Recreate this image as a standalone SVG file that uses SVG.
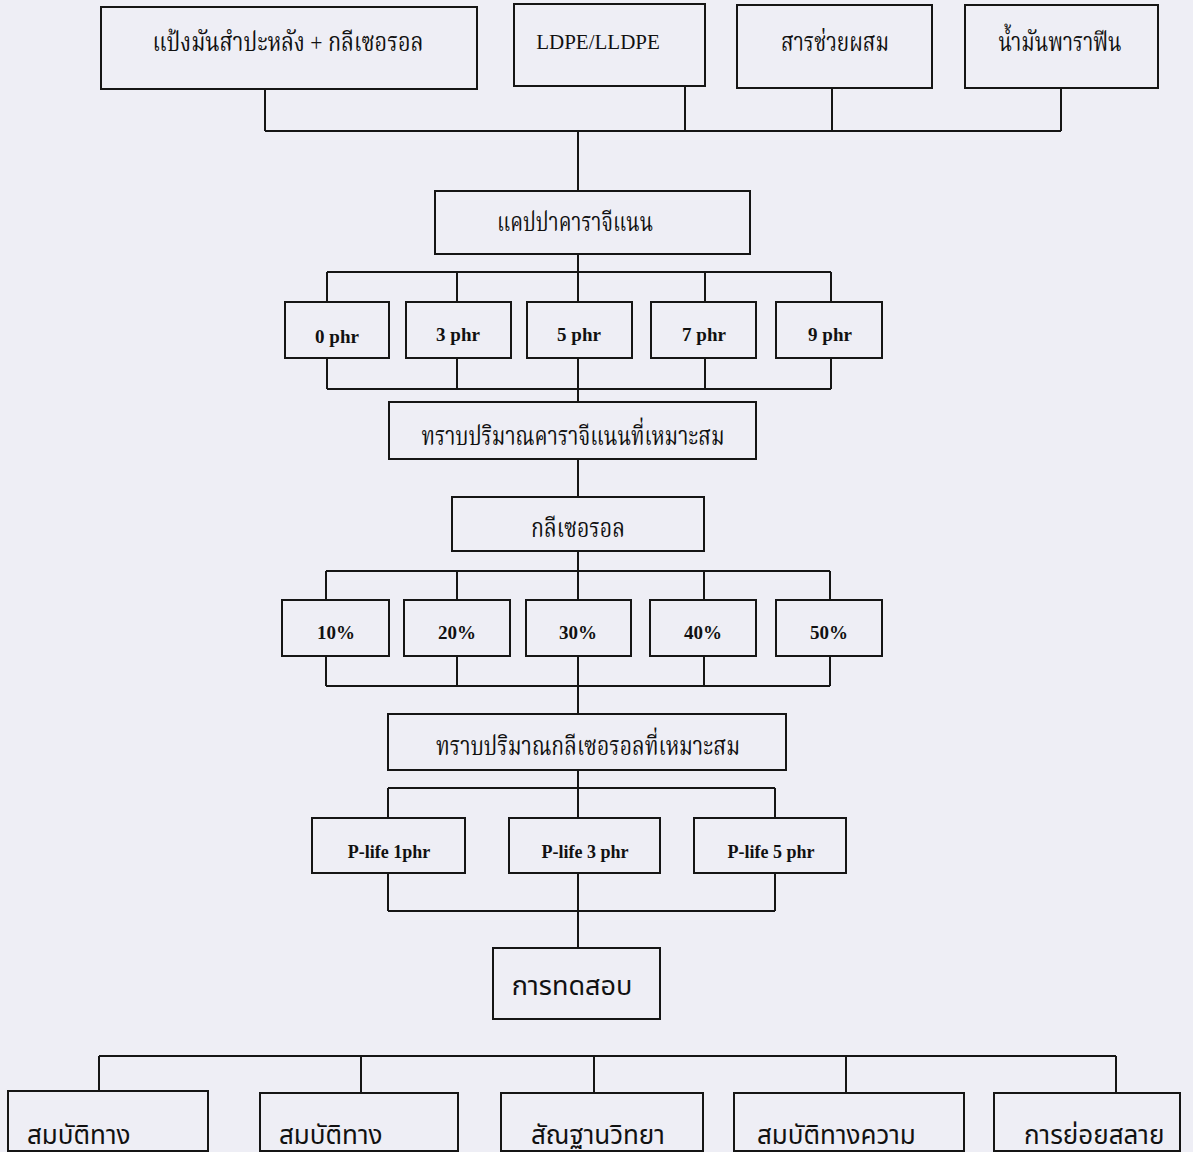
<svg xmlns="http://www.w3.org/2000/svg" width="1193" height="1152" viewBox="0 0 1193 1152">
  <style>
    .box { fill: none; stroke: #151515; stroke-width: 2; }
    .wire { fill: none; stroke: #151515; stroke-width: 2; }
    .th { font-family: "Liberation Serif", "Noto Serif Thai", "Noto Sans Thai", serif; font-size: 26px; fill: #111; text-anchor: middle; }
    .en { font-family: "Liberation Serif", serif; font-size: 21px; fill: #111; text-anchor: middle; }
    .bd { font-family: "Liberation Serif", serif; font-size: 19px; font-weight: bold; fill: #111; text-anchor: middle; }
    .pl { font-family: "Liberation Serif", serif; font-size: 18px; font-weight: bold; fill: #111; text-anchor: middle; }
    .ths { font-family: "Liberation Sans", "Noto Sans Thai", "Noto Sans", sans-serif; font-size: 26px; fill: #111; }
  </style>
  <rect width="1193" height="1152" fill="#EEEEF5"/>

  <!-- connectors -->
  <g id="connectors" class="wire">
    <!-- raw materials to carrageenan -->
    <path d="M265 89 V131 M685 86 V131 M832 88 V131 M1061 88 V131 M265 131 H1061 M578 131 V190"/>
    <!-- carrageenan to phr levels -->
    <path d="M578 254 V302 M327 272 H831 M327 272 V302 M457 272 V302 M705 272 V302 M831 272 V302"/>
    <path d="M327 358 V389 M457 358 V389 M578 358 V402 M705 358 V389 M831 358 V389 M327 389 H831"/>
    <!-- optimum carrageenan to glycerol -->
    <path d="M578 459 V497"/>
    <!-- glycerol to percentage levels -->
    <path d="M578 551 V600 M326 571 H830 M326 571 V600 M457 571 V600 M704 571 V600 M830 571 V600"/>
    <path d="M326 656 V686 M457 656 V686 M578 656 V714 M704 656 V686 M830 656 V686 M326 686 H830"/>
    <!-- optimum glycerol to P-life -->
    <path d="M578 770 V818 M388 788 H775 M388 788 V818 M775 788 V818"/>
    <path d="M388 873 V911 M775 873 V911 M578 873 V948 M388 911 H775"/>
    <!-- tests -->
    <path d="M99 1056 H1116 M99 1056 V1091 M361 1056 V1093 M594 1056 V1093 M846 1056 V1093 M1116 1056 V1093"/>
  </g>

  <g id="starch">
    <rect class="box" x="101" y="7" width="376" height="82"/>
    <text class="th" x="288" y="51" textLength="271" lengthAdjust="spacingAndGlyphs">แป้งมันสำปะหลัง + กลีเซอรอล</text>
  </g>
  <g id="ldpe">
    <rect class="box" x="514" y="4" width="191" height="82"/>
    <text class="en" x="598" y="49">LDPE/LLDPE</text>
  </g>
  <g id="compatibilizer">
    <rect class="box" x="737" y="5" width="195" height="83"/>
    <text class="th" x="835" y="51" textLength="108" lengthAdjust="spacingAndGlyphs">สารช่วยผสม</text>
  </g>
  <g id="paraffin">
    <rect class="box" x="965" y="5" width="193" height="83"/>
    <text class="th" x="1060" y="51" textLength="123" lengthAdjust="spacingAndGlyphs">น้ำมันพาราฟีน</text>
  </g>

  <g id="carrageenan">
    <rect class="box" x="435" y="191" width="315" height="63"/>
    <text class="th" x="575" y="231" textLength="156" lengthAdjust="spacingAndGlyphs">แคปปาคาราจีแนน</text>
  </g>

  <g id="phr0"><rect class="box" x="285" y="302" width="104" height="56"/><text class="bd" x="337" y="343">0 phr</text></g>
  <g id="phr3"><rect class="box" x="406" y="302" width="105" height="56"/><text class="bd" x="458" y="341">3 phr</text></g>
  <g id="phr5"><rect class="box" x="527" y="302" width="105" height="56"/><text class="bd" x="579" y="341">5 phr</text></g>
  <g id="phr7"><rect class="box" x="651" y="302" width="105" height="56"/><text class="bd" x="704" y="341">7 phr</text></g>
  <g id="phr9"><rect class="box" x="776" y="302" width="106" height="56"/><text class="bd" x="830" y="341">9 phr</text></g>

  <g id="optimum-carrageenan">
    <rect class="box" x="389" y="402" width="367" height="57"/>
    <text class="th" x="573" y="445" textLength="303" lengthAdjust="spacingAndGlyphs">ทราบปริมาณคาราจีแนนที่เหมาะสม</text>
  </g>

  <g id="glycerol">
    <rect class="box" x="452" y="497" width="252" height="54"/>
    <text class="th" x="578" y="537" textLength="94" lengthAdjust="spacingAndGlyphs">กลีเซอรอล</text>
  </g>

  <g id="gly10"><rect class="box" x="282" y="600" width="107" height="56"/><text class="bd" x="336" y="639">10%</text></g>
  <g id="gly20"><rect class="box" x="404" y="600" width="106" height="56"/><text class="bd" x="457" y="639">20%</text></g>
  <g id="gly30"><rect class="box" x="526" y="600" width="105" height="56"/><text class="bd" x="578" y="639">30%</text></g>
  <g id="gly40"><rect class="box" x="650" y="600" width="106" height="56"/><text class="bd" x="703" y="639">40%</text></g>
  <g id="gly50"><rect class="box" x="776" y="600" width="106" height="56"/><text class="bd" x="829" y="639">50%</text></g>

  <g id="optimum-glycerol">
    <rect class="box" x="388" y="714" width="398" height="56"/>
    <text class="th" x="588" y="755" textLength="304" lengthAdjust="spacingAndGlyphs">ทราบปริมาณกลีเซอรอลที่เหมาะสม</text>
  </g>

  <g id="plife1"><rect class="box" x="312" y="818" width="153" height="55"/><text class="pl" x="389" y="858">P-life 1phr</text></g>
  <g id="plife3"><rect class="box" x="509" y="818" width="151" height="55"/><text class="pl" x="585" y="858">P-life 3 phr</text></g>
  <g id="plife5"><rect class="box" x="694" y="818" width="152" height="55"/><text class="pl" x="771" y="858">P-life 5 phr</text></g>

  <g id="testing">
    <rect class="box" x="493" y="948" width="167" height="71"/>
    <text class="ths" x="572" y="995" style="text-anchor: middle; font-size: 27px;">การทดสอบ</text>
  </g>

  <g id="test-mechanical"><rect class="box" x="8" y="1091" width="200" height="60"/><text class="ths" x="27" y="1144">สมบัติทาง</text></g>
  <g id="test-thermal"><rect class="box" x="260" y="1093" width="198" height="58"/><text class="ths" x="279" y="1144">สมบัติทาง</text></g>
  <g id="test-morphology"><rect class="box" x="501" y="1093" width="202" height="58"/><text class="ths" x="531" y="1144">สัณฐานวิทยา</text></g>
  <g id="test-physical"><rect class="box" x="734" y="1093" width="230" height="58"/><text class="ths" x="757" y="1144">สมบัติทางความ</text></g>
  <g id="test-degradation"><rect class="box" x="994" y="1093" width="186" height="58"/><text class="ths" x="1024" y="1144">การย่อยสลาย</text></g>
</svg>
